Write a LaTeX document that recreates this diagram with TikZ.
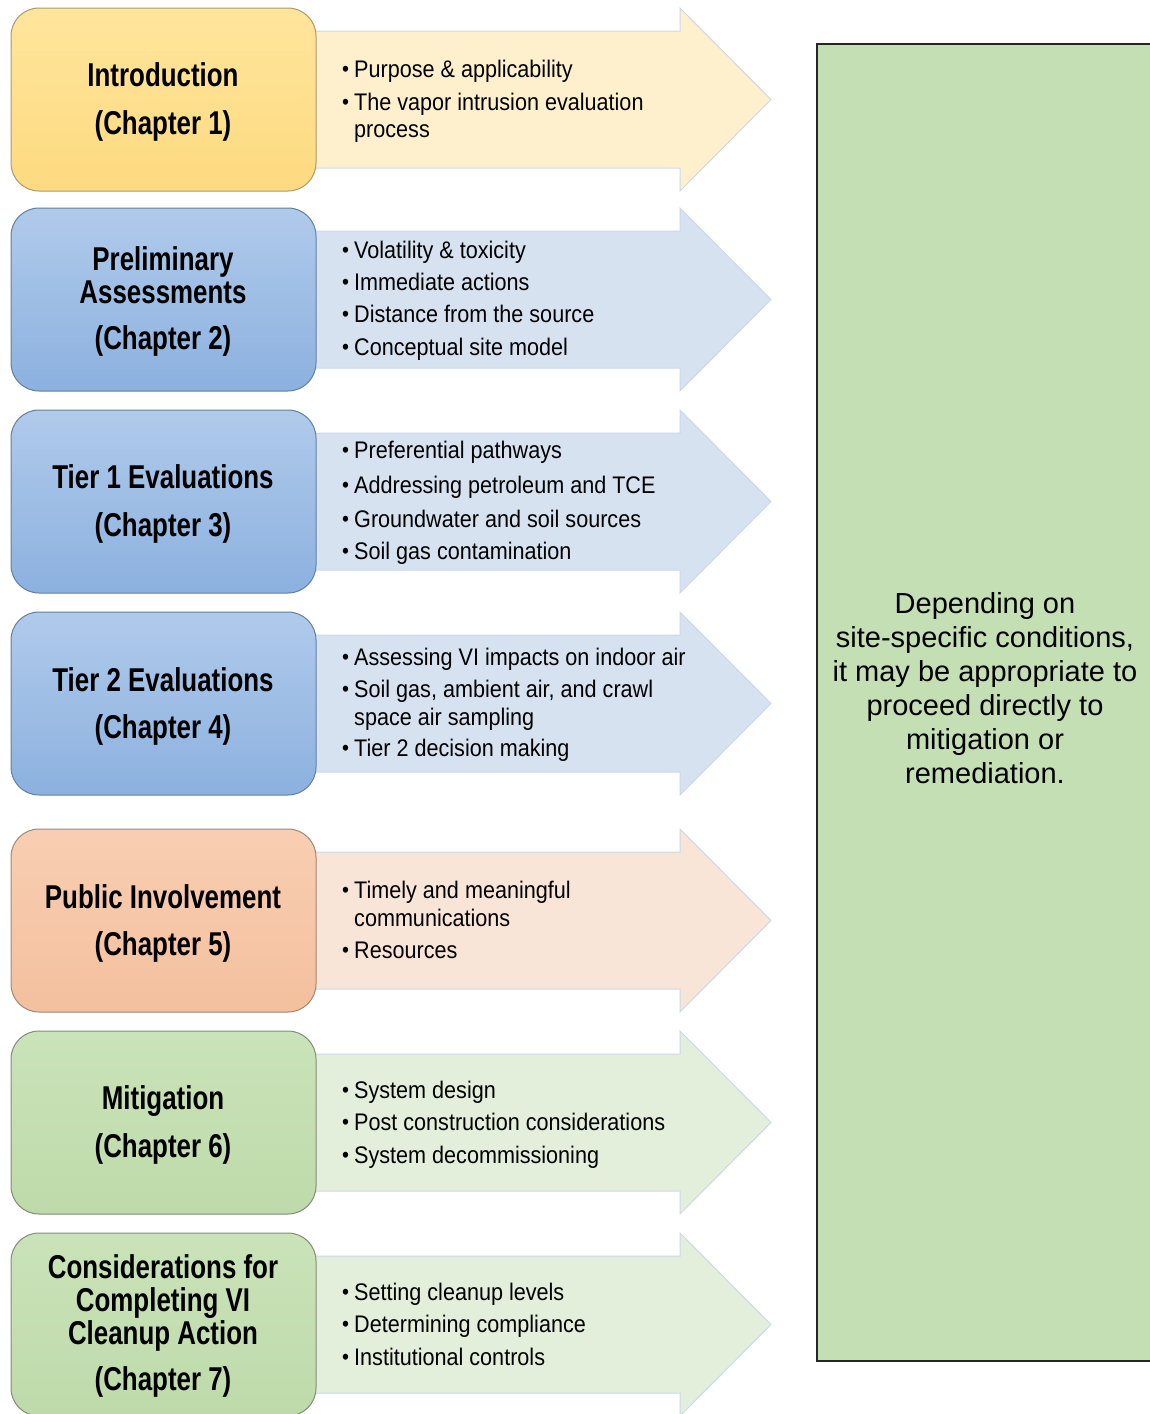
\documentclass[tikz,border=0pt]{standalone}
\usepackage{fontspec}
\setmainfont{Liberation Sans}
\newfontfamily\narrowfont[FakeStretch=0.90]{Liberation Sans}
\newfontfamily\titlefont[FakeStretch=0.785]{Liberation Sans}
\definecolor{yelTop}{HTML}{FFE59C}
\definecolor{yelBot}{HTML}{FDDA80}
\definecolor{yelLine}{HTML}{A89B70}
\definecolor{bluTop}{HTML}{B0CAEB}
\definecolor{bluBot}{HTML}{8CB1DF}
\definecolor{bluLine}{HTML}{62809F}
\definecolor{peaTop}{HTML}{F8CEB2}
\definecolor{peaBot}{HTML}{F4C09E}
\definecolor{peaLine}{HTML}{A08878}
\definecolor{grnTop}{HTML}{CAE3B9}
\definecolor{grnBot}{HTML}{BEDAAA}
\definecolor{grnLine}{HTML}{7F8F76}
\definecolor{yelArr}{HTML}{FEF0CD}
\definecolor{bluArr}{HTML}{D6E2F0}
\definecolor{peaArr}{HTML}{F9E4D8}
\definecolor{grnArr}{HTML}{E3EEDB}
\definecolor{arrLine}{HTML}{CCD8EA}
\definecolor{noteFill}{HTML}{C5DFB4}
\newcommand\bul{\makebox[12pt][l]{\raisebox{0.5pt}{\fontsize{22}{22}\selectfont\textbullet}}}
\newcommand\itm[3]{\node[bline] (#1) at (342,#2) {\bul#3};}
\newcommand\cnt[3]{\node[bline] (#1) at (354,#2) {#3};}
\newcommand\arrowat[2]{\path[arrowshape, fill=#2] (300,#1+23) -- (680,#1+23) -- (680,#1) -- (771,#1+91.5) -- (680,#1+183) -- (680,#1+160) -- (300,#1+160) -- cycle;}
\tikzset{
  chbox/.style={rounded corners=28pt, minimum width=305pt, minimum height=183pt, inner sep=0pt, line width=1pt},
  arrowshape/.style={draw=arrLine, line width=1pt},
  title/.style={font=\titlefont\bfseries\fontsize{33}{33}\selectfont, align=center, inner sep=0pt},
  bline/.style={font=\narrowfont\fontsize{24}{24}\selectfont, anchor=base west, inner sep=0pt},
}
\begin{document}
\begin{tikzpicture}[x=1pt, y=-1pt]
\useasboundingbox (0,0) rectangle (1150,1414);
% note panel
\node[draw=black!85, line width=1.5pt, fill=noteFill, minimum width=335pt, minimum height=1317pt, inner sep=0pt] (panel) at (984.5,702.5) {};
\node[font=\fontsize{29}{34}\selectfont, align=center, inner sep=0pt] (note) at (985,688) {Depending on\\site-specific conditions,\\it may be appropriate to\\proceed directly to\\mitigation or\\remediation.};
% arrows
\arrowat{8}{yelArr}
\arrowat{208}{bluArr}
\arrowat{410}{bluArr}
\arrowat{612}{bluArr}
\arrowat{829}{peaArr}
\arrowat{1031}{grnArr}
\arrowat{1233}{grnArr}
% chapter boxes
\node[chbox, draw=yelLine, top color=yelTop, bottom color=yelBot] (b1) at (163.5,99.5) {};
\node[chbox, draw=bluLine, top color=bluTop, bottom color=bluBot] (b2) at (163.5,299.5) {};
\node[chbox, draw=bluLine, top color=bluTop, bottom color=bluBot] (b3) at (163.5,501.5) {};
\node[chbox, draw=bluLine, top color=bluTop, bottom color=bluBot] (b4) at (163.5,703.5) {};
\node[chbox, draw=peaLine, top color=peaTop, bottom color=peaBot] (b5) at (163.5,920.5) {};
\node[chbox, draw=grnLine, top color=grnTop, bottom color=grnBot] (b6) at (163.5,1122.5) {};
\node[chbox, draw=grnLine, top color=grnTop, bottom color=grnBot] (b7) at (163.5,1324.5) {};
\node[title] (t1) at (163,102) {Introduction\\[15pt](Chapter 1)};
\node[title] (t2) at (163,301) {Preliminary\\Assessments\\[13pt](Chapter 2)};
\node[title] (t3) at (163,504) {Tier 1 Evaluations\\[15pt](Chapter 3)};
\node[title] (t4) at (163,706) {Tier 2 Evaluations\\[14pt](Chapter 4)};
\node[title] (t5) at (163,923) {Public Involvement\\[14pt](Chapter 5)};
\node[title] (t6) at (163,1125) {Mitigation\\[15pt](Chapter 6)};
\node[title] (t7) at (163,1326) {Considerations for\\Completing VI\\Cleanup Action\\[13pt](Chapter 7)};
% bullet text
\itm{a1}{77}{Purpose \& applicability}
\itm{a2}{110}{The vapor intrusion evaluation}
\cnt{a3}{137}{process}
\itm{c1}{258}{Volatility \& toxicity}
\itm{c2}{290}{Immediate actions}
\itm{c3}{322}{Distance from the source}
\itm{c4}{355}{Conceptual site model}
\itm{d1}{458}{Preferential pathways}
\itm{d2}{493}{Addressing petroleum and TCE}
\itm{d3}{527}{Groundwater and soil sources}
\itm{d4}{559}{Soil gas contamination}
\itm{e1}{665}{Assessing VI impacts on indoor air}
\itm{e2}{697}{Soil gas, ambient air, and crawl}
\cnt{e3}{725}{space air sampling}
\itm{e4}{756}{Tier 2 decision making}
\itm{f1}{898}{Timely and meaningful}
\cnt{f2}{926}{communications}
\itm{f3}{958}{Resources}
\itm{g1}{1098}{System design}
\itm{g2}{1130}{Post construction considerations}
\itm{g3}{1163}{System decommissioning}
\itm{h1}{1300}{Setting cleanup levels}
\itm{h2}{1332}{Determining compliance}
\itm{h3}{1365}{Institutional controls}
\end{tikzpicture}
\end{document}
